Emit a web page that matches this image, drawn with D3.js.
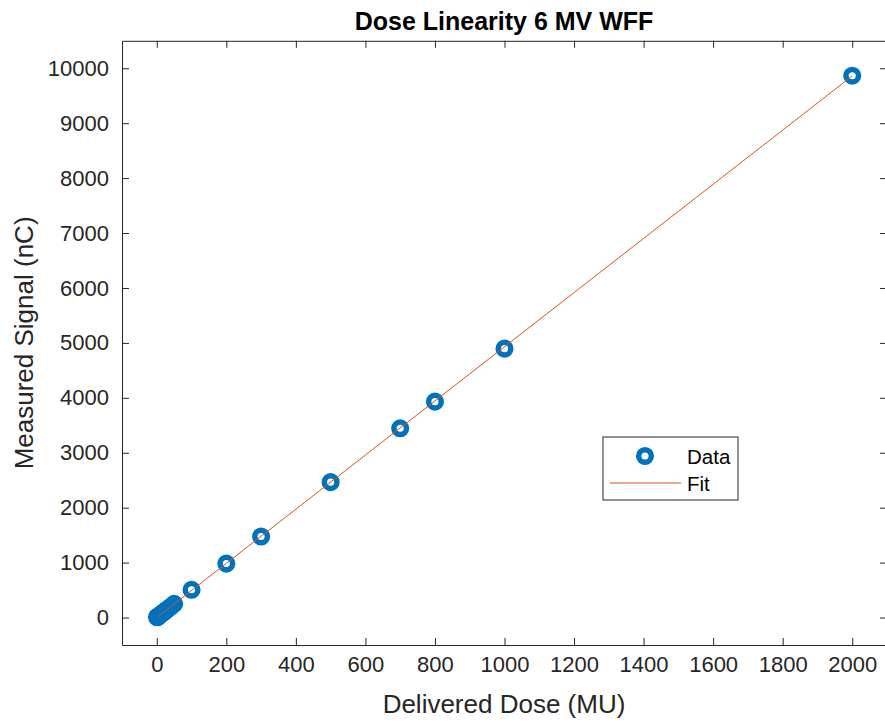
<!DOCTYPE html>
<html>
<head>
<meta charset="utf-8">
<script src="https://cdn.jsdelivr.net/npm/d3@7"></script>
<style>
  body { margin: 0; background: #fff; }
  text { font-family: "Liberation Sans", Arial, sans-serif; fill: #262626; }
</style>
</head>
<body>
<script>
(function(){
    // measured points
    var dose = [1, 2, 3, 5, 10, 15, 20, 25, 30, 40, 50, 100, 200, 300, 500, 700, 800, 1000, 2000];
    var signal = [5, 10, 15, 25, 49, 74, 98, 123, 147, 196, 250, 505, 982, 1475, 2465, 3445, 3930, 4895, 9865];
    // fit line end points
    var fitDose = [1, 2000];
    var fitSignal = [5, 9860];
    var xTicks = [0, 200, 400, 600, 800, 1000, 1200, 1400, 1600, 1800, 2000];
    var yTicks = [0, 1000, 2000, 3000, 4000, 5000, 6000, 7000, 8000, 9000, 10000];
    var legendLabels = ["Data", "Fit"];

    var svgWidth = 885;
    var svgHeight = 722;
    var axisColor = "#262626";
    var dataColor = "#0072BD";
    var fitColor = "#D95319";
    var fmt = d3.format("d");

    var svg = d3.select("body").append("svg")
        .attr("width", svgWidth).attr("height", svgHeight);

    var x = d3.scaleLinear().domain([-100, 2100]).range([122, 887]);
    var y = d3.scaleLinear().domain([-500, 10500]).range([645, 40.8]);

    var left = x.range()[0], right = x.range()[1];
    var top = y.range()[1], bottom = y.range()[0];

    // axes with inward ticks (MATLAB style box)
    svg.append("g").attr("transform", "translate(0," + bottom + ")")
        .call(d3.axisBottom(x).tickValues(xTicks).tickFormat(fmt).tickSizeInner(-7).tickSizeOuter(0).tickPadding(11))
        .call(function(g){
            g.select(".domain").attr("stroke", axisColor);
            g.selectAll(".tick line").attr("stroke", axisColor);
            g.selectAll("text").attr("font-size", 22).attr("fill", axisColor)
                .attr("font-family", "Liberation Sans, Arial, sans-serif");
        });
    svg.append("g").attr("transform", "translate(" + left + ",0)")
        .call(d3.axisLeft(y).tickValues(yTicks).tickFormat(fmt).tickSizeInner(-7).tickSizeOuter(0).tickPadding(13))
        .call(function(g){
            g.select(".domain").attr("stroke", axisColor);
            g.selectAll(".tick line").attr("stroke", axisColor);
            g.selectAll("text").attr("font-size", 22).attr("fill", axisColor)
                .attr("font-family", "Liberation Sans, Arial, sans-serif");
        });
    svg.append("g").attr("transform", "translate(0," + top + ")")
        .call(d3.axisTop(x).tickValues(xTicks).tickSizeInner(-7).tickSizeOuter(0).tickFormat(""))
        .call(function(g){
            g.select(".domain").attr("stroke", axisColor);
            g.selectAll(".tick line").attr("stroke", axisColor);
        });
    svg.append("g").attr("transform", "translate(" + right + ",0)")
        .call(d3.axisRight(y).tickValues(yTicks).tickSizeInner(-7).tickSizeOuter(0).tickFormat(""))
        .call(function(g){
            g.select(".domain").attr("stroke", axisColor);
            g.selectAll(".tick line").attr("stroke", axisColor);
        });

    // data markers
    svg.selectAll("circle.data").data(dose)
        .enter()
        .append("circle").attr("class", "data")
        .attr("cx", function (d) { return x(d); })
        .attr("cy", function (d, i) { return y(signal[i]); })
        .attr("r", 6.3)
        .attr("fill", "none").attr("stroke", dataColor).attr("stroke-width", 5.5);

    // fit line
    var line = d3.line()
        .x(function (d) { return x(d); })
        .y(function (d, i) { return y(fitSignal[i]); });
    svg.append("path").datum(fitDose)
        .attr("d", line)
        .attr("fill", "none").attr("stroke", fitColor).attr("stroke-width", 1);

    // title and labels
    svg.append("text").attr("x", 504).attr("y", 30)
        .attr("text-anchor", "middle").attr("font-size", 25).attr("font-weight", "bold")
        .style("fill", "#000")
        .text("Dose Linearity 6 MV WFF");
    svg.append("text").attr("x", 504).attr("y", 713)
        .attr("text-anchor", "middle").attr("font-size", 26)
        .text("Delivered Dose (MU)");
    svg.append("text")
        .attr("transform", "translate(33," + ((top + bottom) / 2) + ") rotate(-90)")
        .attr("text-anchor", "middle").attr("font-size", 26)
        .text("Measured Signal (nC)");

    // legend
    var lg = svg.append("g").attr("transform", "translate(603,437)");
    lg.append("rect").attr("width", 135).attr("height", 63)
        .attr("fill", "#fff").attr("stroke", axisColor).attr("stroke-width", 1);
    lg.append("circle").attr("cx", 42).attr("cy", 19).attr("r", 6.3)
        .attr("fill", "none").attr("stroke", dataColor).attr("stroke-width", 5.5);
    lg.append("line").attr("x1", 7).attr("x2", 78).attr("y1", 46).attr("y2", 46)
        .attr("stroke", fitColor).attr("stroke-width", 1);
    lg.selectAll("text.leg").data(legendLabels)
        .enter()
        .append("text").attr("class", "leg")
        .attr("x", 84).attr("y", function (d, i) { return 27 + i * 27; })
        .attr("font-size", 20.5).style("fill", "#000")
        .text(function (d) { return d; });
})();
</script>
</body>
</html>
